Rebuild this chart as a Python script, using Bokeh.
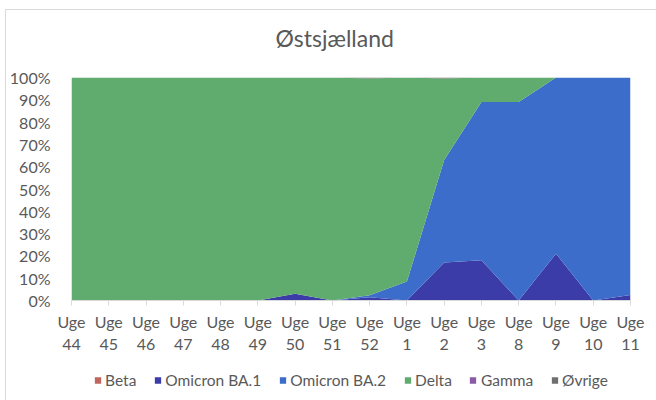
from bokeh.plotting import figure
from bokeh.layouts import column
from bokeh.models import (ColumnDataSource, Range1d, FixedTicker, PrintfTickFormatter,
                          Legend, LegendItem, Title)
from bokeh.embed import file_html
from bokeh.resources import INLINE

weeks = ["44", "45", "46", "47", "48", "49", "50", "51", "52", "1", "2", "3", "8", "9", "10", "11"]
beta = [0, 0, 0, 0, 0, 0, 0, 0, 0, 0, 0, 0, 0, 0, 0, 0]
omicron_ba1 = [0, 0, 0, 0, 0, 0, 3, 0, 1.5, 0, 17, 18, 0, 21, 0, 2.5]
omicron_ba2 = [0, 0, 0, 0, 0, 0, 0, 0, 0.8, 8.5, 46, 71, 89, 79, 100, 97.5]
gamma = [0, 0, 0, 0, 0, 0, 0, 0, 0, 0, 0, 0, 0, 0, 0, 0]
ovrige = [0, 0, 0, 0, 0, 0, 0, 0, 0.5, 0, 0.5, 0, 0, 0, 0, 0]
delta = [100 - a - b - c - d - e for a, b, c, d, e in zip(beta, omicron_ba1, omicron_ba2, gamma, ovrige)]

names = ["Beta", "Omicron BA.1", "Omicron BA.2", "Delta", "Gamma", "Øvrige"]
keys = ["beta", "ba1", "ba2", "delta", "gamma", "ovrige"]
colors = ["#c0665b", "#3c3ca8", "#3d6dca", "#60ac6e", "#8b5ba7", "#6f6f6f"]

xs = list(range(len(weeks)))
source = ColumnDataSource(dict(x=xs, beta=beta, ba1=omicron_ba1, ba2=omicron_ba2,
                               delta=delta, gamma=gamma, ovrige=ovrige))

FONT = "Lato"
GREY = "#595959"

p = figure(width=650, height=350, output_backend="svg", toolbar_location=None,
           x_range=Range1d(0, len(weeks) - 1), y_range=Range1d(0, 100),
           min_border_left=64, min_border_right=26, min_border_top=67, min_border_bottom=60)
p.outline_line_color = None
p.grid.visible = False

renderers = p.varea_stack(stackers=keys, x="x", color=colors, source=source)

spacer = Title(text=" ", text_font_size="8px")
p.add_layout(spacer, "above")
title = Title(text="Østsjælland", align="left", text_font=FONT, text_font_size="23px",
              text_font_style="normal", text_color=GREY, offset=204)
p.add_layout(title, "above")

xa = p.xaxis[0]
xa.ticker = FixedTicker(ticks=xs)
xa.major_label_overrides = {i: "Uge\n" + w for i, w in enumerate(weeks)}
xa.axis_line_color = "#d9d9d9"
xa.major_tick_line_color = "#d9d9d9"
xa.major_tick_in = 0
xa.major_tick_out = 5
xa.minor_tick_line_color = None
xa.major_label_text_font = FONT
xa.major_label_text_font_size = "16px"
xa.major_label_text_color = GREY
xa.major_label_standoff = 6

ya = p.yaxis[0]
ya.ticker = FixedTicker(ticks=list(range(0, 101, 10)))
ya.formatter = PrintfTickFormatter(format="%d%%")
ya.axis_line_color = None
ya.major_tick_line_color = None
ya.minor_tick_line_color = None
ya.major_label_text_font = FONT
ya.major_label_text_font_size = "16px"
ya.major_label_text_color = GREY
ya.major_label_standoff = 15

# separate strip that holds the legend (its areas lie outside its visible range)
lg = figure(width=650, height=40, output_backend="svg", toolbar_location=None,
            x_range=Range1d(0, 1), y_range=Range1d(500, 501),
            x_axis_location=None, y_axis_location=None,
            min_border_left=0, min_border_right=26, min_border_top=0, min_border_bottom=0)
lg.grid.visible = False
lg.outline_line_color = None
swatches = lg.varea_stack(stackers=keys, x="x", color=colors, source=source)

legend = Legend(items=[LegendItem(label=n, renderers=[r]) for n, r in zip(names, swatches)],
                orientation="horizontal", location="center")
legend.label_text_font = FONT
legend.label_text_font_size = "15.5px"
legend.label_text_color = GREY
legend.glyph_width = 8
legend.glyph_height = 8
legend.label_standoff = 4
legend.spacing = 17
legend.padding = 2
legend.margin = 0
legend.border_line_color = None
legend.background_fill_alpha = 0
lg.add_layout(legend, "center")

layout = column(p, lg, spacing=0,
                styles={"margin-left": "5px", "margin-top": "9px",
                        "border-left": "1px solid #d9d9d9", "border-top": "1px solid #d9d9d9"})

open("out.html", "w").write(file_html(layout, INLINE))
